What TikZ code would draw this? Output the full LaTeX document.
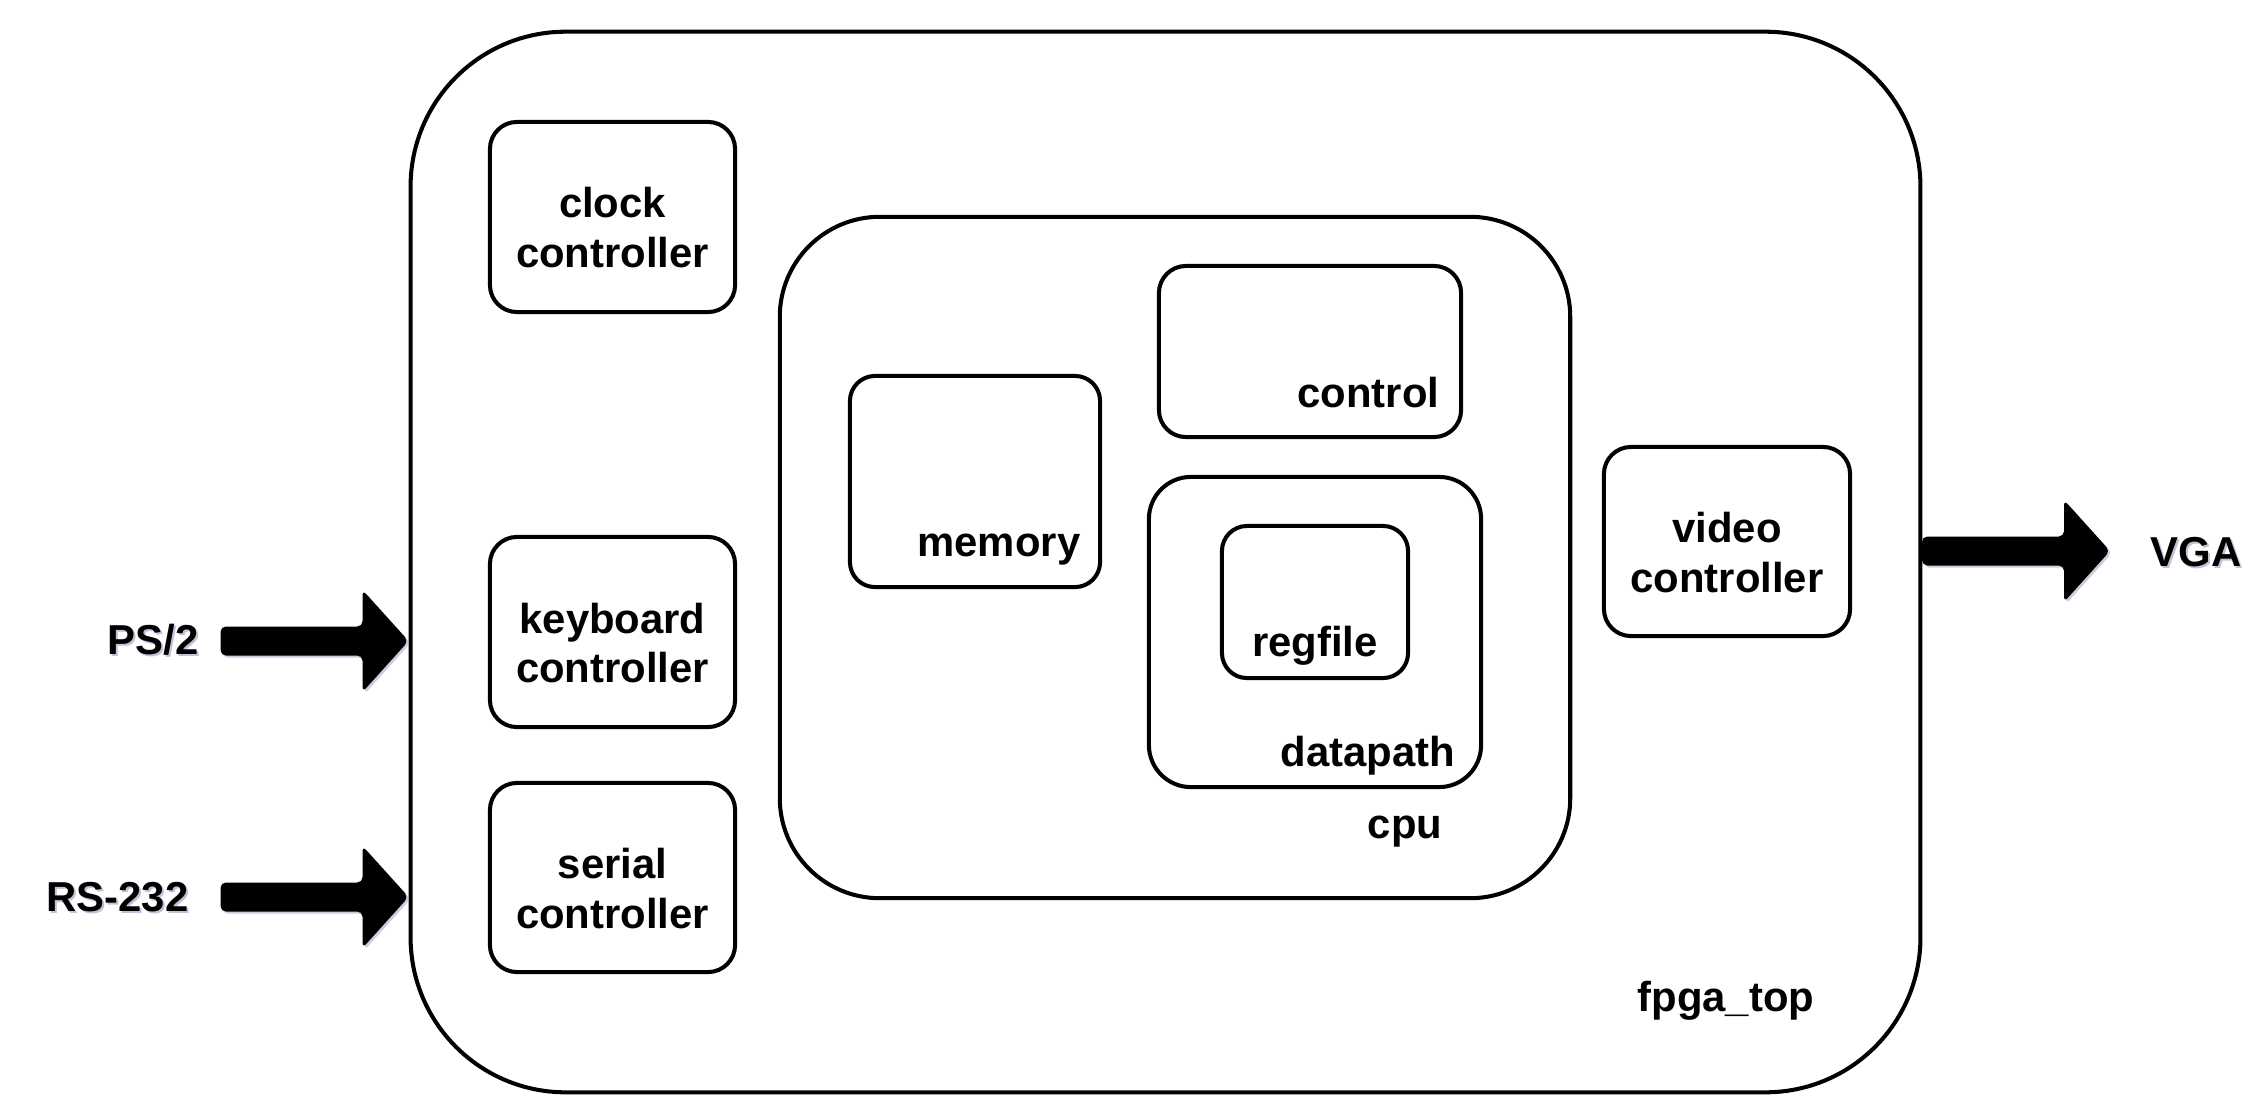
\documentclass[tikz,border=0pt]{standalone}
\usepackage{fontspec}
\setmainfont{Liberation Sans}
\definecolor{shadowc}{RGB}{150,156,190}
\begin{document}
\begin{tikzpicture}[x=0.01cm,y=-0.01cm,
  font=\fontsize{11.9}{14.2}\selectfont\bfseries,
  box/.style={draw, line width=1.15pt, rounded corners=0.27cm, inner sep=0pt},
  lbl/.style={inner sep=0pt, align=center},
  shlbl/.style={inner sep=0pt, text=shadowc, opacity=0.6},
  blockarrow/.pic={
    \fill[shadowc, opacity=0.5, rounded corners=1.5pt, shift={(2,2)}]
      (-188,-14.5) -- (-46,-14.5) -- (-46,-51) -- (0,0) -- (-46,51) -- (-46,14.5) -- (-188,14.5) -- cycle;
    \fill[black, rounded corners=1.5pt]
      (-188,-14.5) -- (-46,-14.5) -- (-46,-51) -- (0,0) -- (-46,51) -- (-46,14.5) -- (-188,14.5) -- cycle;
  }]
\useasboundingbox (0,0) rectangle (2252,1106);
\fill[white] (0,0) rectangle (2252,1106);

% outer fpga_top
\node[box, rounded corners=1.55cm, minimum width=15.09cm, minimum height=10.60cm] (outer) at (1165.5,562) {};
\node[lbl, anchor=base east] (fpgalbl) at (1815,1011) {fpga\_top};

% left controllers
\node[box, minimum width=2.45cm, minimum height=1.90cm] (clk) at (612.5,217) {};
\node[lbl, yshift=-0.11cm] (clklbl) at (clk.center) {clock\\controller};
\node[box, minimum width=2.45cm, minimum height=1.90cm] (kbd) at (612.5,632) {};
\node[lbl, yshift=-0.11cm] (kbdlbl) at (kbd.center) {keyboard\\controller};
\node[box, minimum width=2.45cm, minimum height=1.89cm] (ser) at (612.5,877.5) {};
\node[lbl, yshift=-0.11cm] (serlbl) at (ser.center) {serial\\controller};

% cpu
\node[box, rounded corners=1.0cm, minimum width=7.90cm, minimum height=6.81cm] (cpu) at (1175,557.5) {};
\node[lbl, anchor=base east] (cpulbl) at (1443,838) {cpu};

% control
\node[box, minimum width=3.02cm, minimum height=1.71cm] (control) at (1310,351.5) {};
\node[lbl, anchor=base east] (controllbl) at (1440,407) {control};

% memory
\node[box, rounded corners=0.25cm, minimum width=2.50cm, minimum height=2.11cm] (memory) at (975,481.5) {};
\node[lbl, anchor=base east] (memorylbl) at (1081,556) {memory};

% datapath
\node[box, rounded corners=0.42cm, minimum width=3.32cm, minimum height=3.10cm] (datapath) at (1315,632) {};
\node[lbl, anchor=base east] (datapathlbl) at (1456,766) {datapath};

% regfile
\node[box, rounded corners=0.25cm, minimum width=1.86cm, minimum height=1.52cm] (regfile) at (1315,602) {};
\node[lbl, anchor=base] (regfilelbl) at (1315,656) {regfile};

% video
\node[box, minimum width=2.46cm, minimum height=1.89cm] (video) at (1727,541.5) {};
\node[lbl, yshift=-0.11cm] (videolbl) at (video.center) {video\\controller};

% external labels with shadow
\node[shlbl, anchor=east] at (201,642) {PS/2};
\node[lbl, anchor=east] (ps2) at (199,640) {PS/2};
\node[shlbl, anchor=east] at (191,899) {RS-232};
\node[lbl, anchor=east] (rs232) at (189,897) {RS-232};
\node[shlbl, anchor=west] at (2152,554) {VGA};
\node[lbl, anchor=west] (vga) at (2150,552) {VGA};

% block arrows
\coordinate (ps2tip) at (outer.west |- 0,641);
\coordinate (rstip) at (outer.west |- 0,897);
\coordinate (vgatip) at (2110,551);
\pic at (ps2tip) {blockarrow};
\pic at (rstip) {blockarrow};
\pic at (vgatip) {blockarrow};
\end{tikzpicture}
\end{document}
